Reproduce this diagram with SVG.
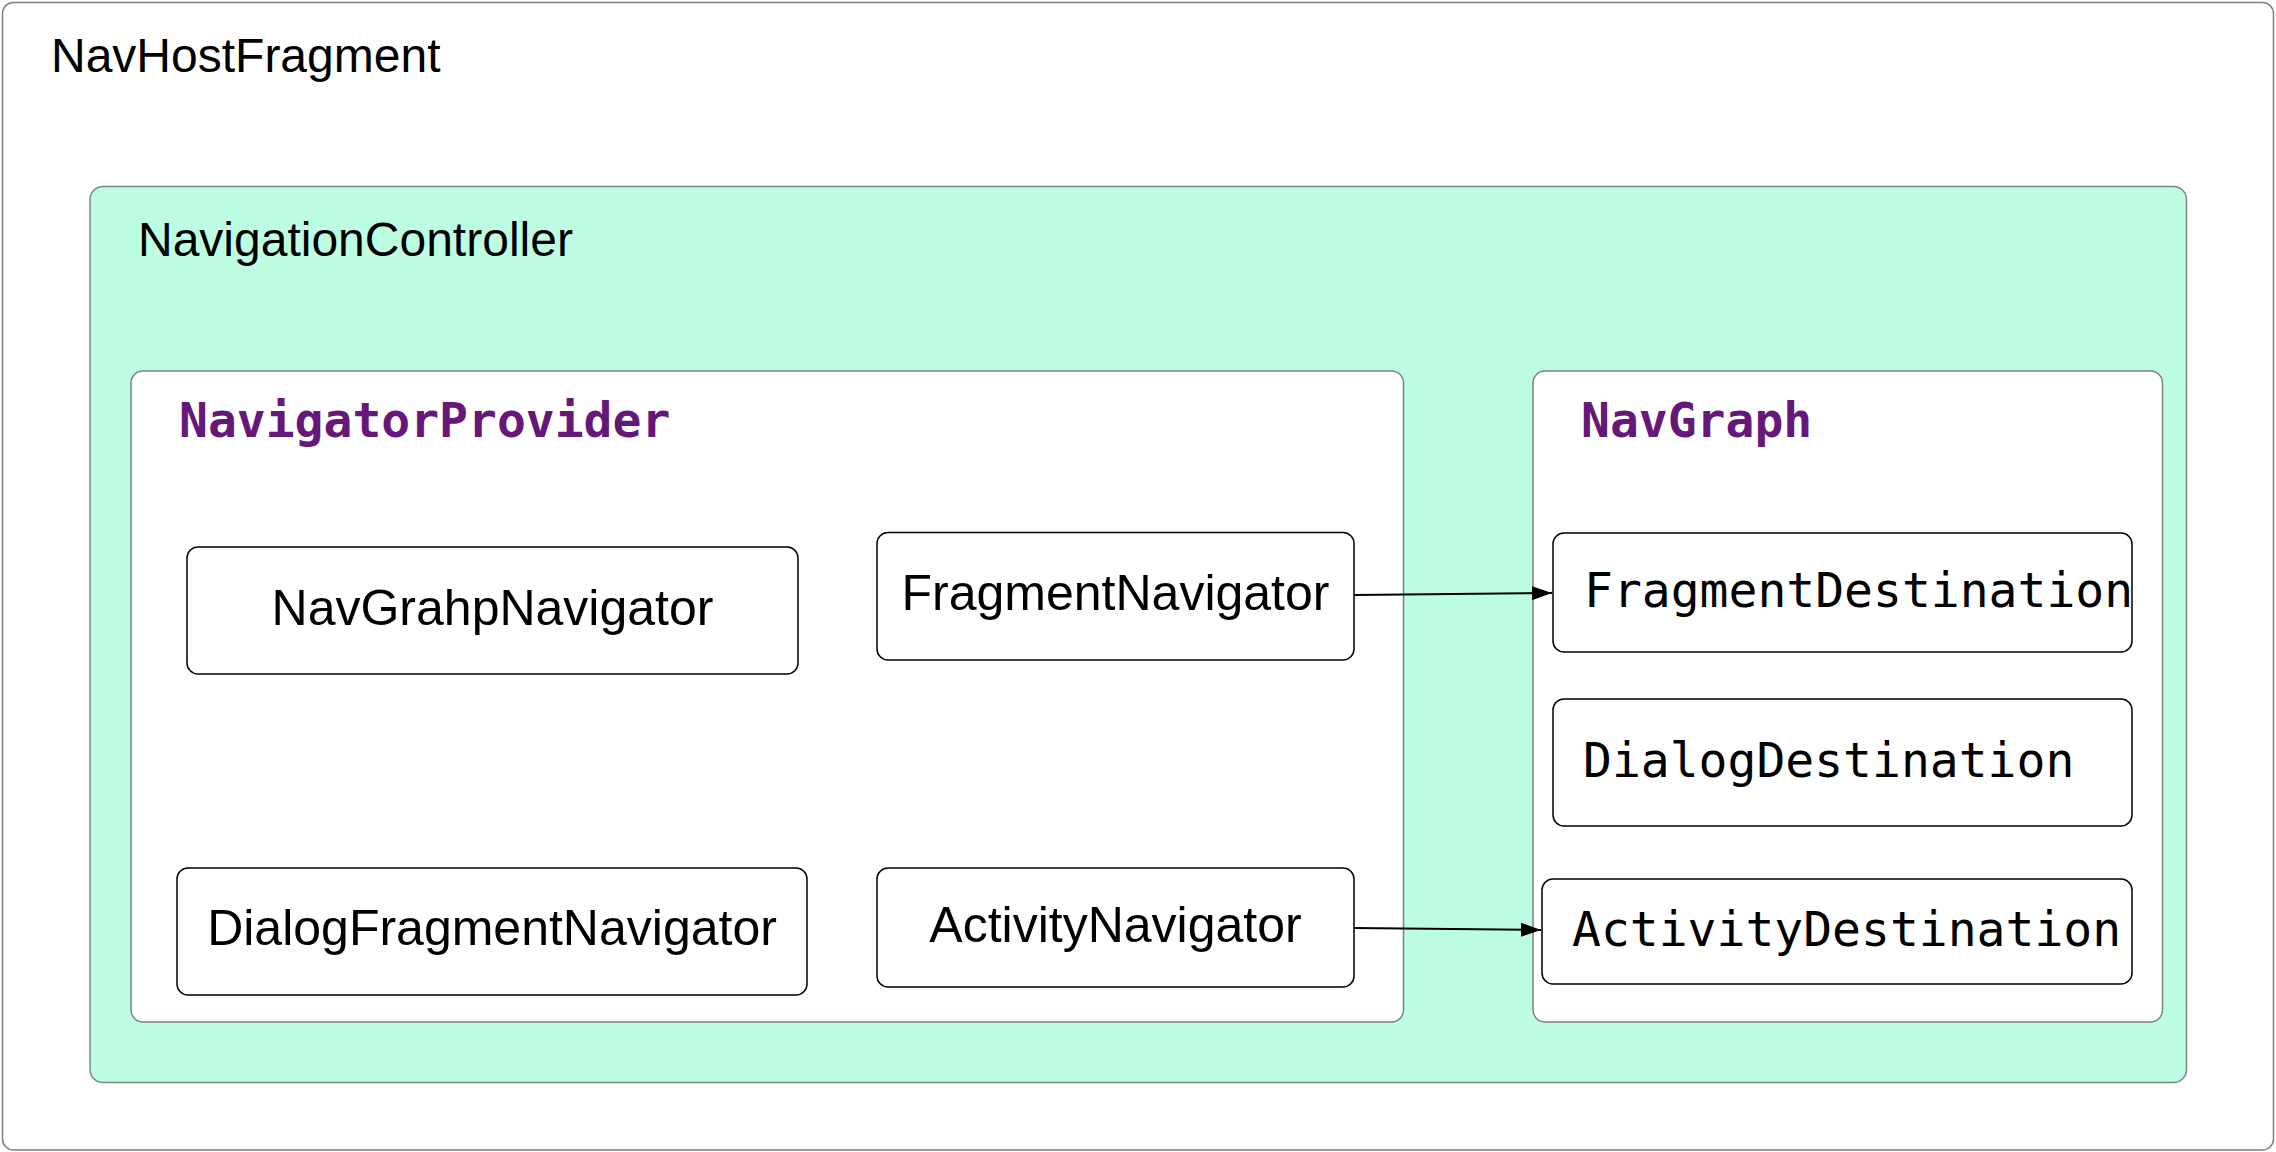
<svg xmlns="http://www.w3.org/2000/svg" width="2276" height="1152" viewBox="0 0 2276 1152">
<style>
.container{fill:#ffffff;stroke:#7f7f7f;stroke-width:1.5}
.green{fill:#bdfee3;stroke:#7a8a82;stroke-width:1.5}
.box{fill:#ffffff;stroke:#000000;stroke-width:1.5}
.sans{font-family:"Liberation Sans",Arial,Helvetica,sans-serif;font-size:48px;fill:#000000}
.label{font-family:"Liberation Sans",Arial,Helvetica,sans-serif;font-size:50px;fill:#000000}
.title{font-family:"DejaVu Sans Mono","Liberation Mono",monospace;font-size:48px;font-weight:bold;fill:#66187a}
.mono{font-family:"DejaVu Sans Mono","Liberation Mono",monospace;font-size:48px;fill:#000000}
.conn{stroke:#000000;stroke-width:2;fill:none}
</style>
<defs>
<marker id="arrow" viewBox="0 0 20 14" refX="20" refY="7" markerWidth="20" markerHeight="14" markerUnits="userSpaceOnUse" orient="auto">
<path d="M0,0 L20,7 L0,14 Z" fill="#000000"/>
</marker>
</defs>
<g id="NavHostFragment">
<rect class="container" x="2.5" y="2.5" width="2271" height="1147.5" rx="11"/>
<text class="sans" x="51" y="72">NavHostFragment</text>
</g>
<g id="NavigationController">
<rect class="green" x="90" y="186.5" width="2096.5" height="896" rx="13"/>
<text class="sans" x="138" y="256">NavigationController</text>
</g>
<g id="NavigatorProvider">
<rect class="container" x="131" y="371" width="1272.5" height="651" rx="12"/>
<text class="title" x="179" y="437">NavigatorProvider</text>
</g>
<g id="NavGraph">
<rect class="container" x="1533" y="371" width="629.5" height="651" rx="12"/>
<text class="title" x="1581" y="437">NavGraph</text>
</g>
<g id="NavGrahpNavigator">
<rect class="box" x="187" y="547" width="611" height="127" rx="11"/>
<text class="label" x="492.5" y="625" text-anchor="middle">NavGrahpNavigator</text>
</g>
<g id="DialogFragmentNavigator">
<rect class="box" x="177" y="868" width="630" height="127" rx="11"/>
<text class="label" x="492" y="945" text-anchor="middle">DialogFragmentNavigator</text>
</g>
<g id="FragmentNavigator">
<rect class="box" x="877" y="532.5" width="477" height="127.5" rx="11"/>
<text class="label" x="1115.5" y="610" text-anchor="middle">FragmentNavigator</text>
</g>
<g id="ActivityNavigator">
<rect class="box" x="877" y="868" width="477" height="119" rx="11"/>
<text class="label" x="1115.5" y="942" text-anchor="middle">ActivityNavigator</text>
</g>
<g id="FragmentDestination">
<rect class="box" x="1553" y="533" width="579" height="119" rx="11"/>
<text class="mono" x="1584" y="607">FragmentDestination</text>
</g>
<g id="DialogDestination">
<rect class="box" x="1553" y="699" width="579" height="127" rx="11"/>
<text class="mono" x="1583" y="777">DialogDestination</text>
</g>
<g id="ActivityDestination">
<rect class="box" x="1542" y="879" width="590" height="105" rx="11"/>
<text class="mono" x="1572" y="946">ActivityDestination</text>
</g>
<g id="connectors">
<line class="conn" x1="1354" y1="595" x2="1552" y2="593" marker-end="url(#arrow)"/>
<line class="conn" x1="1354" y1="928" x2="1541" y2="930" marker-end="url(#arrow)"/>
</g>
</svg>
